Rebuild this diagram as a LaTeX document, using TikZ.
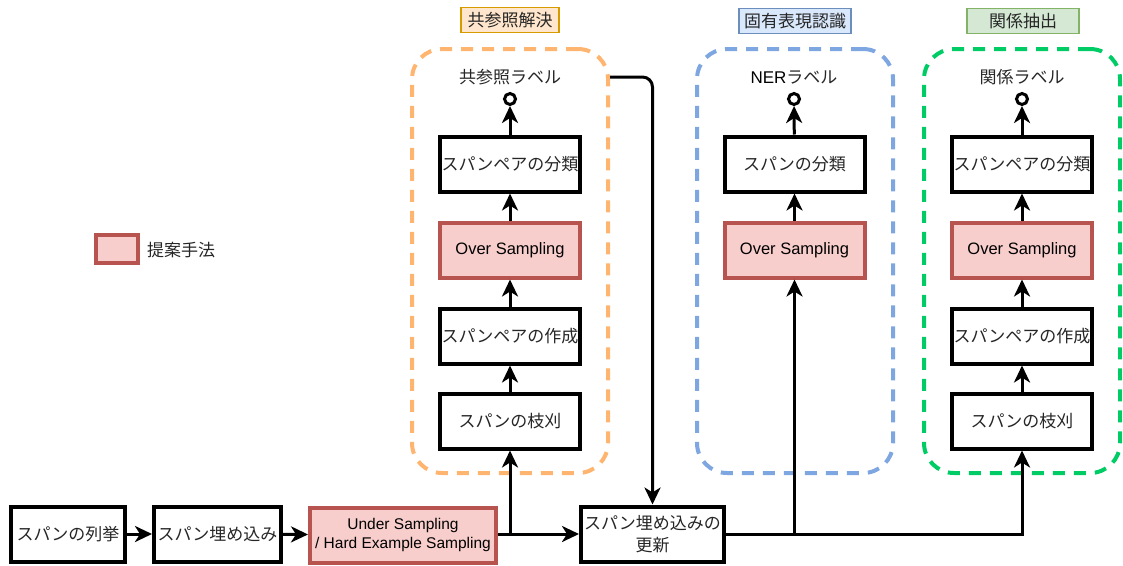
\documentclass[tikz,border=0pt]{standalone}
\usepackage{fontspec}
\setmainfont{Liberation Sans}
\newfontfamily\jp{Noto Sans CJK JP}
\usetikzlibrary{arrows.meta}
\definecolor{osfill}{HTML}{F8CECC}
\definecolor{osdraw}{HTML}{B85450}
\definecolor{orC}{HTML}{FFB570}
\definecolor{blC}{HTML}{7EA6E0}
\definecolor{grC}{HTML}{00CC66}
\definecolor{t1fill}{HTML}{FFE6CC}
\definecolor{t1draw}{HTML}{D79B00}
\definecolor{t2fill}{HTML}{DAE8FC}
\definecolor{t2draw}{HTML}{6C8EBF}
\definecolor{t3fill}{HTML}{D5E8D4}
\definecolor{t3draw}{HTML}{82B366}
\newcommand\jpf{\jp\fontsize{17}{22}\selectfont\color{black!85}}
\newcommand\lf{\fontsize{16.5}{19}\selectfont}
\begin{document}
\begin{tikzpicture}[x=1pt,y=-1pt,
  box/.style={draw=black, line width=4pt, fill=white, minimum width=140pt, minimum height=55pt, inner sep=0pt, font=\jpf, align=center},
  os/.style={box, fill=osfill, draw=osdraw, font=\lf},
  arr/.style={line width=3pt, -{Stealth[length=17pt,width=16pt,inset=5pt]}},
  term/.style={circle, draw, line width=3pt, minimum size=11pt, inner sep=0pt, fill=white},
  cont/.style={line width=4pt, rounded corners=30pt, dash pattern=on 12pt off 9pt, minimum width=196pt, minimum height=424pt, inner sep=0pt},
  ttl/.style={line width=1.5pt, minimum width=98pt, minimum height=25pt, inner sep=0pt, font=\jpf},
  lbl/.style={inner sep=0pt, font=\jpf}
]
\useasboundingbox (0,0) rectangle (1123,565);
% containers
\node[cont, draw=orC] (g1) at (510,261) {};
\node[cont, draw=blC] (g2) at (795,261) {};
\node[cont, draw=grC] (g3) at (1022,261) {};
% titles
\node[ttl, fill=t1fill, draw=t1draw] (h1) at (510,20) {共参照解決};
\node[ttl, fill=t2fill, draw=t2draw, minimum width=112pt] (h2) at (795,21) {固有表現認識};
\node[ttl, fill=t3fill, draw=t3draw, minimum width=112pt] (h3) at (1023,21) {関係抽出};
% labels
\node[lbl] (l1) at (510,77) {共参照ラベル};
\node[lbl, font=\fontsize{17}{22}\selectfont] (l2) at (794,77) {NER{\jpf ラベル}};
\node[lbl] (l3) at (1022,77) {関係ラベル};
% terminals
\node[term] (t1) at (510,99) {};
\node[term] (t2) at (794,99) {};
\node[term] (t3) at (1022,99) {};
% coref column
\node[box] (c1) at (510,164) {スパンペアの分類};
\node[os] (c2) at (510,250) {Over Sampling};
\node[box] (c3) at (510,336) {スパンペアの作成};
\node[box] (c4) at (510,421) {スパンの枝刈};
% NER column
\node[box] (n1) at (794.5,164) {スパンの分類};
\node[os] (n2) at (794.5,250) {Over Sampling};
% relation column
\node[box] (r1) at (1022,164) {スパンペアの分類};
\node[os] (r2) at (1022,250) {Over Sampling};
\node[box] (r3) at (1022,336) {スパンペアの作成};
\node[box] (r4) at (1022,421) {スパンの枝刈};
% bottom row
\node[box, minimum width=114pt] (b1) at (68,534) {スパンの列挙};
\node[box, minimum width=127pt] (b2) at (217.5,534) {スパン埋め込み};
\node[os, minimum width=186pt, font=\fontsize{15.5}{18.5}\selectfont] (b3) at (403,535) {Under Sampling\\/ Hard Example Sampling};
\node[box, minimum width=143pt] (upd) at (652.5,534) {スパン埋め込みの\\更新};
% legend
\node[os, minimum width=42pt, minimum height=28pt] (leg) at (117,249) {};
\node[lbl, anchor=west] (legt) at (147,250) {提案手法};
% connectors bottom
\draw[arr] (b1) -- (b2);
\draw[arr] (b2) -- (b3);
\draw[arr] (b3.east |- upd.west) -- (upd.west);
\draw[arr] (b3.east |- upd.west -| c4.south) -- (c4.south);
\draw[arr] (upd.east) -| (r4.south);
\draw[arr] (upd.east -| n2.south) -- (n2.south);
\draw[arr, rounded corners=10pt] (l1 -| g1.east) -| (upd.north);
% column connectors
\draw[arr] (c4) -- (c3);
\draw[arr] (c3) -- (c2);
\draw[arr] (c2) -- (c1);
\draw[arr] (c1) -- (t1);
\draw[arr] (n2) -- (n1);
\draw[arr] (n1) -- (t2);
\draw[arr] (r4) -- (r3);
\draw[arr] (r3) -- (r2);
\draw[arr] (r2) -- (r1);
\draw[arr] (r1) -- (t3);
\end{tikzpicture}
\end{document}
